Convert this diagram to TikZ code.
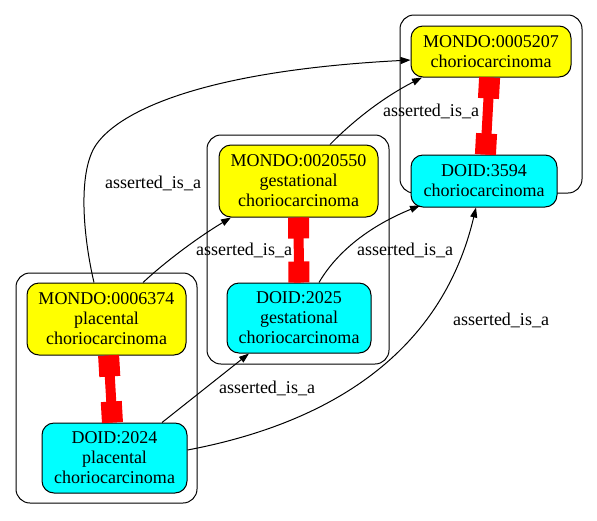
\documentclass[tikz,border=0pt]{standalone}
\usepackage{fontspec}
\setmainfont{Liberation Serif}
\usetikzlibrary{arrows.meta,calc}
\definecolor{ynode}{HTML}{FFFF00}
\definecolor{cnode}{HTML}{00FFFF}
\begin{document}
\begin{tikzpicture}[x=1pt,y=-1pt,
  every node/.style={font=\fontsize{18}{20}\selectfont},
  term/.style={draw=black, line width=1pt, rounded corners=12pt, align=center, inner sep=0pt},
  mondo/.style={term, fill=ynode},
  doid/.style={term, fill=cnode},
  cluster/.style={draw=black, line width=1pt, rounded corners=14pt},
  isa/.style={draw=black, line width=1pt, -{Triangle[length=10pt,width=7pt]}},
  lbl/.style={anchor=base, inner sep=0pt},
  xthick/.style={draw=red, line width=21pt},
  xthin/.style={draw=red, line width=10pt}]
\useasboundingbox (0,0) rectangle (597,520);

% clusters
\draw[cluster] (16,273) rectangle (197,503);
\draw[cluster] (207,135) rectangle (389,364);
\draw[cluster] (400,15) rectangle (582,193);

% nodes
\node[mondo, minimum width=159pt, minimum height=72pt] (m6374) at (106.5,319) {MONDO:0006374\\placental\\choriocarcinoma};
\node[doid, minimum width=145pt, minimum height=70pt] (d2024) at (114.5,458) {DOID:2024\\placental\\choriocarcinoma};
\node[mondo, minimum width=159pt, minimum height=72pt] (m20550) at (298.5,181) {MONDO:0020550\\gestational\\choriocarcinoma};
\node[doid, minimum width=144pt, minimum height=70pt] (d2025) at (299,318) {DOID:2025\\gestational\\choriocarcinoma};
\node[mondo, minimum width=160pt, minimum height=51pt] (m5207) at (491,51.5) {MONDO:0005207\\choriocarcinoma};
\node[doid, minimum width=146pt, minimum height=52pt] (d3594) at (484,181) {DOID:3594\\choriocarcinoma};

% red cross-reference links
\path (m6374) -- (d2024) coordinate[pos=0] (r1a) coordinate[pos=1] (r1b);
\draw[xthin] (r1a) -- (r1b);
\draw[xthick] (r1a) -- ($(r1a)!21pt!(r1b)$);
\draw[xthick] (r1b) -- ($(r1b)!21pt!(r1a)$);

\path (m20550) -- (d2025) coordinate[pos=0] (r2a) coordinate[pos=1] (r2b);
\draw[xthin] (r2a) -- (r2b);
\draw[xthick] (r2a) -- ($(r2a)!21pt!(r2b)$);
\draw[xthick] (r2b) -- ($(r2b)!21pt!(r2a)$);

\path (m5207) -- (d3594) coordinate[pos=0] (r3a) coordinate[pos=1] (r3b);
\draw[xthin] (r3a) -- (r3b);
\draw[xthick] (r3a) -- ($(r3a)!21pt!(r3b)$);
\draw[xthick] (r3b) -- ($(r3b)!21pt!(r3a)$);

% asserted_is_a edges
\draw[isa] ($(m6374.north)+(-12.5,0)$) .. controls (84,240) and (78,180) .. (93,150)
           .. controls (108,120) and (180,72) .. ($(m5207.west)+(0,8.5)$);
\draw[isa] ($(m6374.north)+(36.5,0)$) .. controls (165,262) and (197,238) .. ($(m20550.south)+(-67.5,0)$);
\draw[isa] ($(m20550.north)+(31.5,0)$) .. controls (352,122) and (382,98) .. ($(m5207.south)+(-69,0)$);
\draw[isa] ($(d2025.north)+(20,0)$) .. controls (335,255) and (365,228) .. ($(d3594.south)+(-64,-2)$);
\draw[isa] ($(d2024.north)+(47.5,0)$) -- ($(d2025.south)+(-50,0)$);
\draw[isa] ($(d2024.east)+(0,-8)$) .. controls (320,425) and (440,360) .. ($(d3594.south)+(-8,0)$);

% edge labels
\node[lbl] (l1) at (153,188) {asserted\_is\_a};
\node[lbl] (l2) at (244,255) {asserted\_is\_a};
\node[lbl] (l3) at (405,255) {asserted\_is\_a};
\node[lbl] (l4) at (267,393) {asserted\_is\_a};
\node[lbl] (l5) at (431,116) {asserted\_is\_a};
\node[lbl] (l6) at (501,325) {asserted\_is\_a};
\end{tikzpicture}
\end{document}
